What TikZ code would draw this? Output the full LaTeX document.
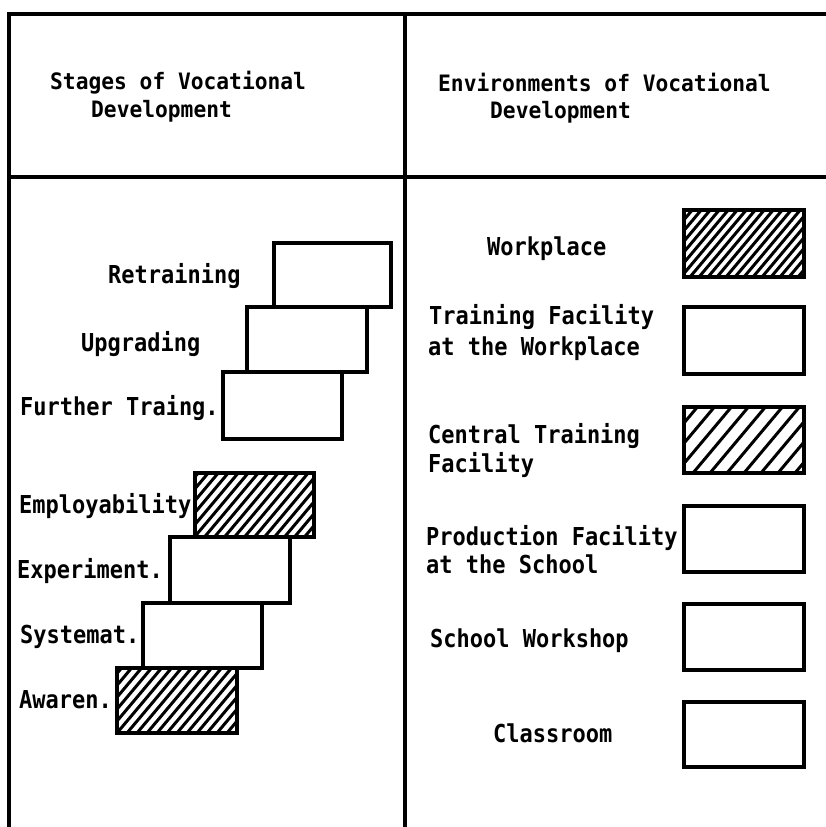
\documentclass[tikz,border=0pt]{standalone}
\usepackage{fontspec}
\newfontfamily\bodyfont{DejaVu Sans Mono}[FakeStretch=0.89]
\newfontfamily\headfont{DejaVu Sans Mono}[FakeStretch=0.94]
\begin{document}
\begin{tikzpicture}[x=1pt,y=-1pt,
  frame/.style={line width=3.2pt},
  box/.style={draw, line width=3.4pt, inner sep=0pt},
  hatch/.style={path picture={
    \foreach \k in {-30,...,30}{
      \draw[line width=3pt] ([xshift=\k*#1pt]path picture bounding box.south)
        ++(230:120pt) -- ++(50:240pt);}}},
  lbl/.style={anchor=base west, inner sep=0pt,
    font=\bodyfont\bfseries\fontsize{24.7}{30}\selectfont},
  head/.style={anchor=base west, inner sep=0pt,
    font=\headfont\bfseries\fontsize{22.6}{28}\selectfont}]
\useasboundingbox (0,0) rectangle (826,827);

% table frame
\draw[frame] (9,827) -- (9,14) -- (826,14);
\draw[frame] (9,177) -- (826,177);
\draw[frame] (405,14) -- (405,827);

% column headings
\node[head] (h1a) at (50,89) {Stages of Vocational};
\node[head] (h1b) at (91,117) {Development};
\node[head] (h2a) at (438,91) {Environments of Vocational};
\node[head] (h2b) at (490,118) {Development};

% stages (staircase)
\node[box, minimum width=117pt, minimum height=64pt] (s7) at (332.5,275) {};
\node[box, minimum width=120pt, minimum height=65pt] (s6) at (307,339.5) {};
\node[box, minimum width=119pt, minimum height=67pt] (s5) at (282.5,405.5) {};
\node[box, hatch=10, minimum width=119pt, minimum height=64pt] (s4) at (254.5,505) {};
\node[box, minimum width=120pt, minimum height=66pt] (s3) at (230,570) {};
\node[box, minimum width=119pt, minimum height=65pt] (s2) at (202.5,635.5) {};
\node[box, hatch=10, minimum width=120pt, minimum height=65pt] (s1) at (177,700.5) {};

\node[lbl] (l7) at (108,283) {Retraining};
\node[lbl] (l6) at (81,351) {Upgrading};
\node[lbl] (l5) at (20,415) {Further Traing.};
\node[lbl] (l4) at (19,513) {Employability};
\node[lbl] (l3) at (17,578) {Experiment.};
\node[lbl] (l2) at (20,643) {Systemat.};
\node[lbl] (l1) at (19,708) {Awaren.};

% environments
\node[box, hatch=9, minimum width=120pt, minimum height=67pt] (e6) at (744,243.5) {};
\node[box, minimum width=120pt, minimum height=67pt] (e5) at (744,340.5) {};
\node[box, hatch=17, minimum width=120pt, minimum height=66pt] (e4) at (744,440) {};
\node[box, minimum width=120pt, minimum height=66pt] (e3) at (744,539) {};
\node[box, minimum width=120pt, minimum height=66pt] (e2) at (744,637) {};
\node[box, minimum width=120pt, minimum height=65pt] (e1) at (744,734.5) {};

\node[lbl] (r6) at (487,255) {Workplace};
\node[lbl] (r5a) at (429,324) {Training Facility};
\node[lbl] (r5b) at (428,355) {at the Workplace};
\node[lbl] (r4a) at (428,443) {Central Training};
\node[lbl] (r4b) at (428,472) {Facility};
\node[lbl] (r3a) at (426,545) {Production Facility};
\node[lbl] (r3b) at (426,573) {at the School};
\node[lbl] (r2) at (430,647) {School Workshop};
\node[lbl] (r1) at (493,742) {Classroom};
\end{tikzpicture}
\end{document}
